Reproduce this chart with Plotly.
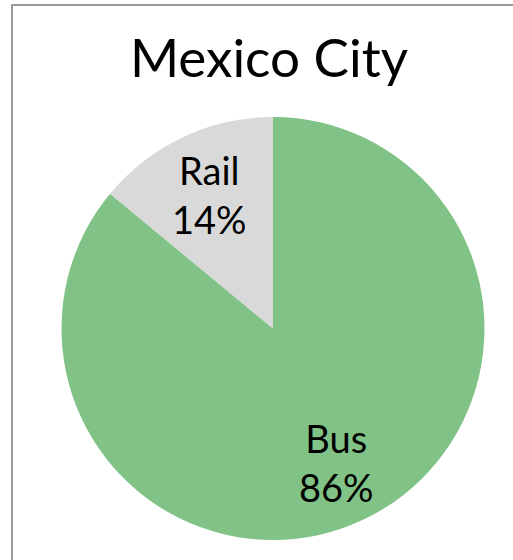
import math
import plotly.graph_objects as go

# Mode share of public transit trips
modes = ["Bus", "Rail"]
shares = [86, 14]
colors = ["#81C386", "#D9D9D9"]

fig = go.Figure(
    go.Pie(
        labels=modes,
        values=shares,
        sort=False,
        direction="clockwise",
        rotation=0,
        marker=dict(colors=colors, line=dict(width=0)),
        textinfo="none",
        showlegend=False,
        hoverinfo="label+percent",
        domain=dict(x=[0, 1], y=[0, 1]),
    )
)

# data labels placed on each slice's bisector, at 70% of the radius
total = sum(shares)
start = 0.0
for name, v in zip(modes, shares):
    frac = v / total
    mid = 2 * math.pi * (start + frac / 2)  # clockwise from 12 o'clock
    start += frac
    fig.add_annotation(
        xref="paper", yref="paper",
        x=0.5 + 0.5 * 0.7 * math.sin(mid),
        y=0.5 + 0.5 * 0.7 * math.cos(mid),
        text=f"{name}<br>{frac:.0%}",
        showarrow=False,
        xanchor="center", yanchor="middle",
        font=dict(family="Lato", size=38, color="black"),
    )

# chart frame
fig.add_shape(
    type="rect", xref="paper", yref="paper",
    x0=(12 - 61) / 424, x1=1.2, y0=-0.2, y1=(540 - 5) / 423,
    line=dict(color="#9A9A9A", width=2), fillcolor="rgba(0,0,0,0)",
)

fig.update_layout(
    width=513,
    height=560,
    margin=dict(l=61, r=28, t=117, b=20),
    paper_bgcolor="white",
    plot_bgcolor="white",
    title=dict(
        text="Mexico City",
        font=dict(family="Lato", size=53, color="black"),
        xref="paper", x=(269 - 61) / 424, xanchor="center",
        yref="container", y=1 - 58 / 560, yanchor="middle",
    ),
)

fig.write_html("out.html")
